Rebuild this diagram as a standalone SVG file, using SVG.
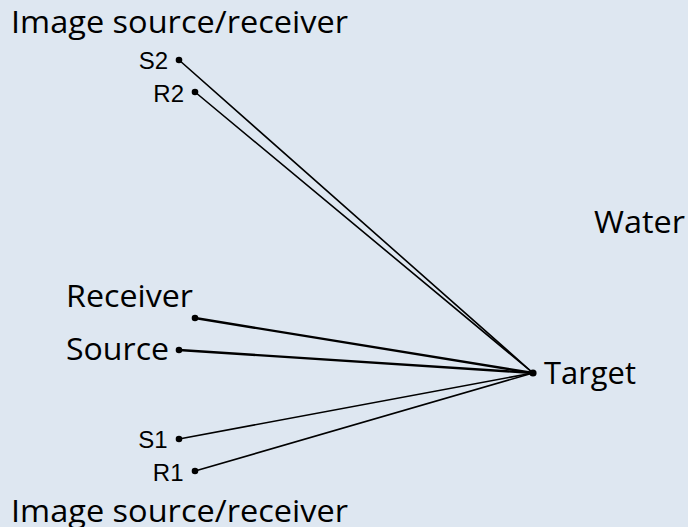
<svg xmlns="http://www.w3.org/2000/svg" width="688" height="527" viewBox="0 0 688 527">
  <style>
    .big { font-family: "Open Sans", "Liberation Sans", sans-serif; font-size: 31px; fill: #000; }
    .small { font-family: "Liberation Sans", Arial, sans-serif; font-size: 24px; fill: #000; text-anchor: end; }
    .ln { stroke: #000; fill: none; stroke-linecap: round; }
    .thin { stroke-width: 1.6; }
    .thick { stroke-width: 2.4; }
    .dot { fill: #000; }
  </style>
  <rect x="0" y="0" width="688" height="527" fill="#DEE7F1"/>
  <g id="connectors">
    <line class="ln thin" x1="179" y1="60" x2="533" y2="373"/>
    <line class="ln thin" x1="195" y1="92" x2="533" y2="373"/>
    <line class="ln thick" x1="195" y1="318" x2="533" y2="373"/>
    <line class="ln thick" x1="179" y1="350" x2="533" y2="373"/>
    <line class="ln thin" x1="179" y1="439" x2="533" y2="373"/>
    <line class="ln thin" x1="195" y1="471" x2="533" y2="373"/>
  </g>
  <g id="label-image-top">
    <text class="big" x="11" y="33" textLength="337" lengthAdjust="spacingAndGlyphs">Image source/receiver</text>
  </g>
  <g id="label-image-bottom">
    <text class="big" x="11" y="522" textLength="337" lengthAdjust="spacingAndGlyphs">Image source/receiver</text>
  </g>
  <g id="node-S2">
    <circle class="dot" cx="179" cy="60" r="3.3"/>
    <text class="small" x="168" y="69">S2</text>
  </g>
  <g id="node-R2">
    <circle class="dot" cx="195" cy="92" r="3.3"/>
    <text class="small" x="184" y="102">R2</text>
  </g>
  <g id="node-receiver">
    <circle class="dot" cx="195" cy="318" r="3.3"/>
    <text class="big" x="66" y="307" textLength="127" lengthAdjust="spacingAndGlyphs">Receiver</text>
  </g>
  <g id="node-source">
    <circle class="dot" cx="179" cy="350" r="3.3"/>
    <text class="big" x="66" y="360" textLength="103" lengthAdjust="spacingAndGlyphs">Source</text>
  </g>
  <g id="node-S1">
    <circle class="dot" cx="179" cy="439" r="3.3"/>
    <text class="small" x="167.5" y="448">S1</text>
  </g>
  <g id="node-R1">
    <circle class="dot" cx="195" cy="471" r="3.3"/>
    <text class="small" x="183.5" y="481">R1</text>
  </g>
  <g id="node-target">
    <circle class="dot" cx="533" cy="373" r="3.6"/>
    <text class="big" x="544" y="384" textLength="92" lengthAdjust="spacingAndGlyphs">Target</text>
  </g>
  <g id="label-water">
    <text class="big" x="594" y="233" textLength="91" lengthAdjust="spacingAndGlyphs">Water</text>
  </g>
</svg>
